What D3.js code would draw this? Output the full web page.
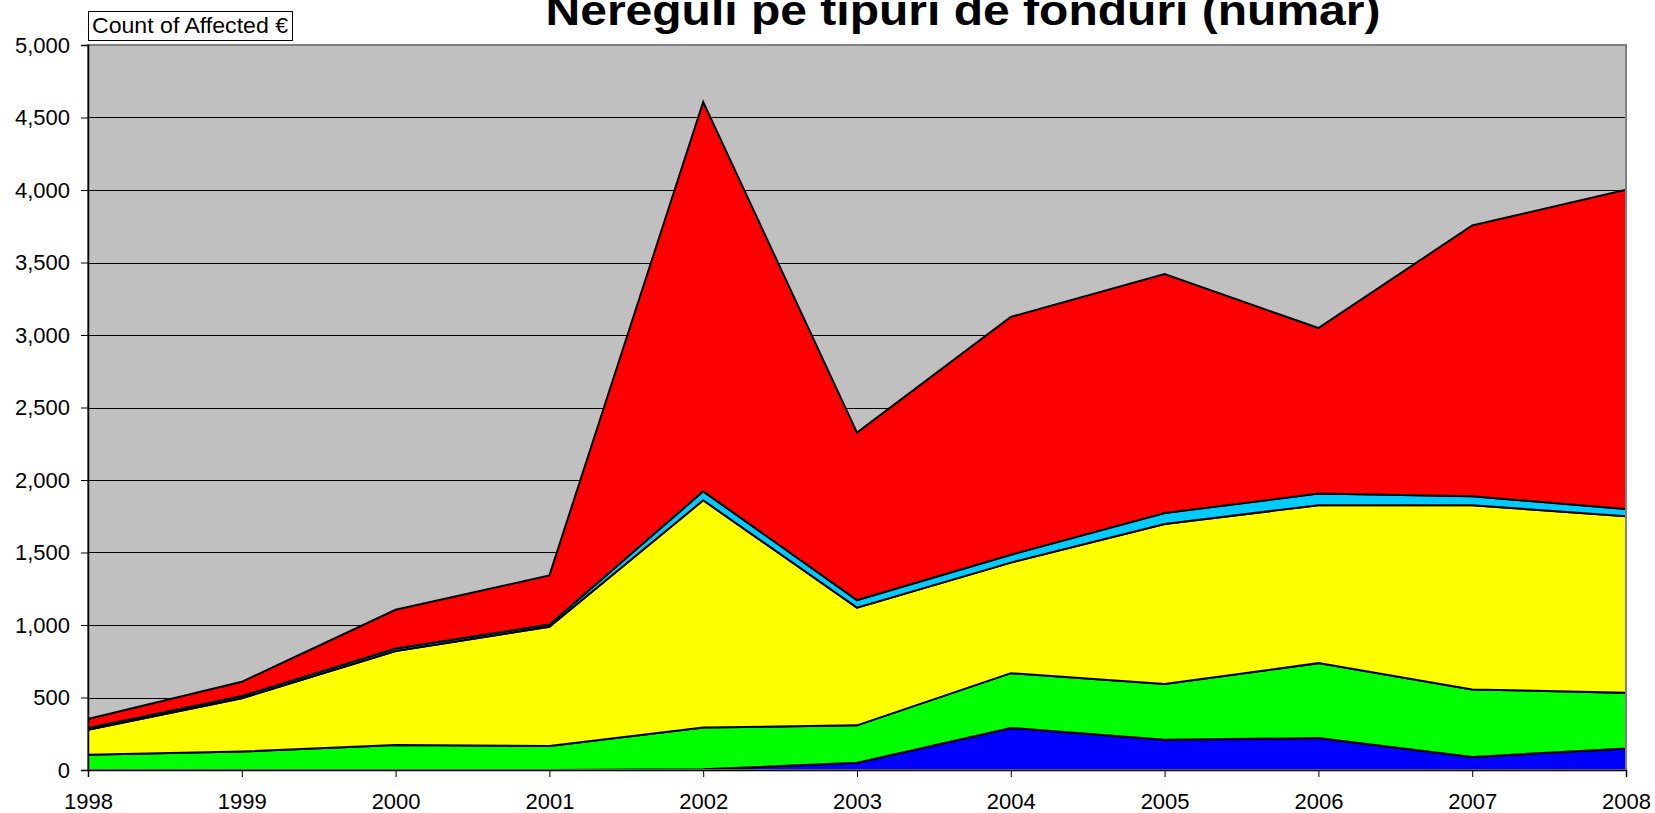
<!DOCTYPE html>
<html>
<head>
<meta charset="utf-8">
<script src="https://cdn.jsdelivr.net/npm/d3@7"></script>
<style>
  body { margin: 0; background: #fff; }
  text { font-family: Arial, "Liberation Sans", sans-serif; }
</style>
</head>
<body>
<div id="chart-area"></div>
<script>
// DATA ----------------------------------------------------------------------
const years   = [1998, 1999, 2000, 2001, 2002, 2003, 2004, 2005, 2006, 2007, 2008]
const blue    = [0, 0, 0, 0, 5, 50, 290, 208, 220, 90, 148]
const green   = [105, 127, 172, 165, 288, 258, 378, 385, 517, 466, 384]
const yellow  = [173, 368, 648, 823, 1567, 812, 762, 1104, 1089, 1270, 1218]
const cyan    = [12, 15, 18, 15, 62, 52, 55, 75, 81, 62, 50]
const red     = [62, 98, 267, 339, 2685, 1155, 1640, 1648, 1141, 1867, 2202]
const yTicks  = [0, 500, 1000, 1500, 2000, 2500, 3000, 3500, 4000, 4500, 5000]

const seriesKeys   = ['blue', 'green', 'yellow', 'cyan', 'red']
const seriesColors = ['#0000FF', '#00FF00', '#FFFF00', '#00CCFF', '#FF0000']
const title = 'Nereguli pe tipuri de fonduri (numar)'

// MARGIN CONVENTION ----------------------------------------------------------
const W = 1655, H = 813
const MARGIN = { LEFT: 88, RIGHT: 29, TOP: 45, BOTTOM: 43 }
const WIDTH  = W - MARGIN.LEFT - MARGIN.RIGHT
const HEIGHT = H - MARGIN.TOP - MARGIN.BOTTOM

const svg = d3.select('#chart-area').append('svg')
  .attr('width', W)
  .attr('height', H)
const g = svg.append('g')
  .attr('transform', `translate(${MARGIN.LEFT}, ${MARGIN.TOP})`)

// SCALES ---------------------------------------------------------------------
const xScale = d3.scaleLinear().domain([1998, 2008]).range([0, WIDTH])
const yScale = d3.scaleLinear().domain([0, 5000]).range([HEIGHT, 0])

// table for the stack
const table = years.map((y, i) => ({
  year: y, blue: blue[i], green: green[i], yellow: yellow[i], cyan: cyan[i], red: red[i]
}))
const stacked = d3.stack().keys(seriesKeys)(table)

// plot background
g.append('rect')
  .attr('width', WIDTH).attr('height', HEIGHT)
  .attr('fill', '#C0C0C0')

// gridlines
g.append('g').selectAll('line').data(yTicks.slice(1)).enter().append('line')
  .attr('x1', 0).attr('x2', WIDTH)
  .attr('y1', d => Math.round(yScale(d)) + 0.5)
  .attr('y2', d => Math.round(yScale(d)) + 0.5)
  .attr('stroke', '#000').attr('stroke-width', 1)

// areas
const area = d3.area()
  .x(d => xScale(d.data.year))
  .y0(d => yScale(d[0]))
  .y1(d => yScale(d[1]))

g.selectAll('path.layer').data(stacked).enter().append('path')
  .attr('class', 'layer')
  .attr('d', area)
  .attr('fill', (d, i) => seriesColors[i])
  .attr('stroke', '#000')
  .attr('stroke-width', 2)
  .attr('stroke-linejoin', 'miter')

// plot border
g.append('rect')
  .attr('width', WIDTH).attr('height', HEIGHT)
  .attr('fill', 'none')
  .attr('stroke', '#808080').attr('stroke-width', 2)

// AXES -----------------------------------------------------------------------
const yAxis = d3.axisLeft(yScale).tickValues(yTicks).tickFormat(d3.format(',')).tickSizeOuter(0).tickSize(7).tickPadding(11)
const gy = g.append('g').call(yAxis)
gy.select('.domain').attr('stroke', '#000').attr('stroke-width', 1.5)
gy.selectAll('text').attr('font-size', 22).attr('fill', '#000')
  .attr('font-family', 'Arial, "Liberation Sans", sans-serif')

const xAxis = d3.axisBottom(xScale).tickValues(years).tickFormat(d3.format('d')).tickSizeOuter(0).tickSize(7).tickPadding(16)
const gx = g.append('g').attr('transform', `translate(0, ${HEIGHT})`).call(xAxis)
gx.select('.domain').attr('stroke', '#000').attr('stroke-width', 1.5)
gx.selectAll('text').attr('font-size', 22).attr('fill', '#000')
  .attr('font-family', 'Arial, "Liberation Sans", sans-serif')

// TITLE ----------------------------------------------------------------------
svg.append('text')
  .attr('x', 963).attr('y', 25)
  .attr('text-anchor', 'middle')
  .attr('font-size', 42).attr('font-weight', 'bold')
  .attr('textLength', 835).attr('lengthAdjust', 'spacingAndGlyphs')
  .text(title)

// field button
svg.append('rect')
  .attr('x', 88.5).attr('y', 11.5).attr('width', 204).attr('height', 29)
  .attr('fill', '#fff').attr('stroke', '#000').attr('stroke-width', 1)
svg.append('text')
  .attr('x', 92).attr('y', 33)
  .attr('font-size', 22)
  .attr('textLength', 196).attr('lengthAdjust', 'spacingAndGlyphs')
  .text('Count of Affected €')
</script>
</body>
</html>
